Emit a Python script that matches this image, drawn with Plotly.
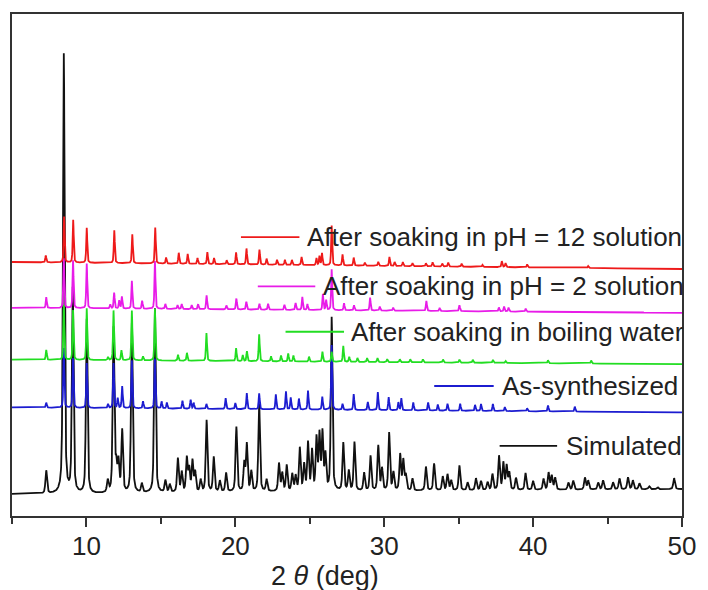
import numpy as np
import plotly.graph_objects as go

# ---------------- data ----------------
# peaks: (2theta in deg, height above local baseline, arbitrary units)
simulated_peaks = [
    (7.3, 23), (8.48, 441), (9.08, 205), (10.02, 175), (11.43, 12), (11.82, 165),
    (12.0, 25), (12.15, 30), (12.4, 62), (13.05, 170), (13.72, 9), (14.6, 185),
    (15.3, 12), (15.6, 8), (16.14, 34), (16.4, 20), (16.74, 34), (16.9, 23),
    (17.12, 31), (17.3, 20), (17.67, 12), (18.07, 72), (18.55, 35), (18.96, 11),
    (19.38, 19), (20.07, 65), (20.6, 28), (20.77, 47), (21.07, 20), (21.6, 88),
    (22.1, 12), (22.93, 28), (23.15, 18), (23.45, 26), (23.82, 17), (24.05, 15),
    (24.33, 43), (24.62, 26), (24.88, 48), (25.15, 40), (25.45, 52), (25.65, 55),
    (25.85, 57), (26.05, 35), (26.47, 174), (27.25, 48), (27.62, 20), (28.0, 49),
    (28.65, 18), (29.08, 35), (29.6, 45), (29.85, 22), (30.33, 58), (30.62, 18),
    (31.07, 36), (31.28, 30), (31.45, 15), (31.9, 12), (32.8, 24), (33.35, 27),
    (33.93, 14), (34.25, 16), (34.5, 10), (35.05, 25), (35.6, 8), (36.16, 12),
    (36.5, 9), (36.94, 8), (37.27, 16), (37.71, 34), (38.0, 27), (38.22, 24),
    (38.4, 17), (38.85, 12), (39.49, 17), (40.0, 9), (40.7, 11), (41.04, 17),
    (41.25, 14), (41.48, 12), (42.37, 7), (42.7, 9), (43.48, 12), (43.7, 9),
    (44.37, 7), (44.7, 9), (45.37, 7), (45.8, 11), (46.37, 12), (46.7, 9),
    (47.14, 6), (47.8, 3), (48.36, 2), (49.47, 11),
]
simulated_base = [(5, 22), (10, 22), (20, 24), (30, 25), (40, 26), (50, 27)]

as_synth_peaks = [
    (7.3, 5), (8.48, 60), (9.1, 50), (10.02, 45), (11.45, 4), (11.82, 45),
    (12.1, 10), (12.4, 22), (13.05, 48), (13.8, 7), (14.6, 50), (15.05, 7),
    (15.4, 6), (16.45, 8), (17.0, 9), (17.2, 6), (18.06, 5), (19.35, 11),
    (20.0, 6), (20.77, 16), (21.6, 16), (22.72, 15), (23.4, 18), (23.72, 12),
    (24.27, 11), (24.88, 19), (25.84, 13), (26.47, 65), (27.2, 6), (27.95, 16),
    (28.9, 8), (29.57, 18), (30.3, 13), (30.95, 8), (31.15, 12), (31.95, 8),
    (32.95, 8), (33.6, 6), (34.25, 7), (35.1, 7), (36.1, 6), (36.5, 7),
    (37.3, 7), (38.1, 4), (39.6, 3), (41.0, 6), (42.8, 5),
]
as_synth_base = [(5, 109), (50, 104)]

boiling_peaks = [
    (7.3, 10), (8.48, 55), (9.1, 50), (10.02, 52), (11.45, 3), (11.82, 50),
    (12.35, 10), (13.05, 50), (13.8, 4), (14.6, 52), (16.15, 6), (16.75, 8),
    (18.06, 28), (20.05, 13), (20.5, 6), (20.78, 10), (21.6, 27), (22.4, 5),
    (23.07, 6), (23.55, 8), (23.9, 6), (24.95, 5), (25.85, 10), (26.47, 10),
    (27.25, 16), (27.65, 5), (28.2, 4), (28.85, 4), (29.55, 4), (30.2, 3),
    (31.05, 3), (31.75, 3), (32.6, 3), (33.95, 3), (35.05, 3), (35.95, 3),
    (37.3, 3), (38.15, 2), (41.0, 3), (43.9, 3),
]
boiling_base = [(5, 157), (50, 152.5)]

ph2_peaks = [
    (7.3, 11), (8.48, 50), (9.1, 48), (10.02, 45), (11.6, 4), (11.86, 16),
    (12.2, 8), (12.38, 12), (13.05, 28), (13.74, 8), (14.6, 48), (15.3, 5),
    (16.12, 4), (16.4, 5), (17.07, 4), (17.5, 5), (18.07, 14), (19.4, 4),
    (20.07, 11), (20.74, 8), (21.62, 6), (22.2, 6), (23.3, 5), (24.05, 7),
    (24.5, 13), (24.84, 6), (25.88, 16), (26.1, 10), (26.47, 41), (27.3, 7),
    (27.97, 5), (29.05, 13), (29.7, 4), (30.6, 3), (32.83, 10), (33.72, 3),
    (35.05, 6), (37.7, 4), (38.05, 5), (38.35, 4), (39.5, 3),
]
ph2_base = [(5, 209), (50, 204)]

ph12_peaks = [
    (7.27, 7), (8.5, 46), (9.11, 43), (10.02, 35), (11.87, 33), (13.08, 29),
    (14.62, 36), (15.35, 6), (16.2, 11), (16.8, 10), (17.46, 6), (18.12, 12),
    (18.57, 6), (19.42, 4), (20.05, 12), (20.75, 16), (21.62, 15), (22.1, 6),
    (22.8, 5), (23.33, 5), (23.8, 5), (24.45, 8), (25.45, 7), (25.65, 9),
    (25.82, 12), (26.47, 40), (27.2, 11), (27.95, 8), (28.7, 3), (29.6, 4),
    (30.35, 9), (30.7, 4), (31.25, 4), (31.9, 3), (32.8, 3), (33.25, 4),
    (33.9, 3), (34.3, 4), (35.2, 3), (36.6, 2), (37.9, 6), (38.15, 4),
    (39.6, 3), (43.7, 2),
]
ph12_base = [(5, 255), (50, 248)]

series_names = [
    "Simulated",
    "As-synthesized",
    "After soaking in boiling water",
    "After soaking in pH = 2 solution",
    "After soaking in pH = 12 solution",
]
x_tick_vals = [10, 20, 30, 40, 50]
x_tick_text = ["10", "20", "30", "40", "50"]

# ---------------- building the profiles ----------------
two_theta = np.arange(5.0, 50.0001, 0.01)


def profile(peaks, base, fwhm, eta=0.5):
    bx, by = zip(*base)
    y = np.interp(two_theta, bx, by)
    hw = fwhm / 2.0
    for pos, h in peaks:
        d2 = ((two_theta - pos) / hw) ** 2
        y = y + h * (eta / (1.0 + d2) + (1 - eta) * np.exp(-np.log(2) * d2))
    return y


traces = [
    (series_names[0], profile(simulated_peaks, simulated_base, 0.13), "#111111"),
    (series_names[1], profile(as_synth_peaks, as_synth_base, 0.08), "#1c1cd0"),
    (series_names[2], profile(boiling_peaks, boiling_base, 0.08), "#22dd22"),
    (series_names[3], profile(ph2_peaks, ph2_base, 0.08), "#e81ce8"),
    (series_names[4], profile(ph12_peaks, ph12_base, 0.08), "#ee1a1a"),
]

fig = go.Figure()
for name, y, col in traces:
    fig.add_trace(go.Scatter(x=two_theta, y=y, mode="lines", name=name,
                             line=dict(color=col, width=1.8), showlegend=False,
                             hoverinfo="skip"))

# ---------------- layout ----------------
L, R, T, B = 12, 688, 12, 516
W, H = 708, 590


def fx(px):
    return (px - L) / (R - L)


def fy(py):
    return (B - py) / (B - T)


FONT = "Arial, Liberation Sans, sans-serif"

# legend-like labels (line sample + right aligned text)
legend_items = [
    # name index, line x0, x1, y, text right edge
    (4, 243, 302, 236, 690),
    (3, 260, 318, 285.5, 692),
    (2, 288, 347, 331, 692),
    (1, 438, 498, 385.5, 686),
    (0, 504, 562, 445.5, 690),
]
for idx, x0, x1, yy, xr in legend_items:
    col = traces[idx][2]
    fig.add_shape(type="line", xref="paper", yref="paper",
                  x0=fx(x0), x1=fx(x1), y0=fy(yy), y1=fy(yy),
                  line=dict(color=col, width=1.8))
    fig.add_annotation(xref="paper", yref="paper", x=fx(xr), y=fy(yy),
                       xanchor="right", yanchor="middle", showarrow=False,
                       text=series_names[idx],
                       font=dict(family=FONT, size=26, color="#222222"))

fig.add_annotation(xref="paper", yref="paper", x=fx(328), y=fy(576),
                   xanchor="center", yanchor="middle", showarrow=False,
                   text="2 <i>θ</i> (deg)",
                   font=dict(family=FONT, size=27, color="#222222"))

fig.update_layout(
    width=W, height=H,
    margin=dict(l=L, r=W - R, t=T, b=H - B, pad=0),
    paper_bgcolor="white", plot_bgcolor="white",
    showlegend=False,
    xaxis=dict(range=[5, 50], tickvals=x_tick_vals, ticktext=x_tick_text,
               ticks="outside", ticklen=9, tickwidth=1.5, tickcolor="#333",
               ticklabelstandoff=-3,
               showline=True, linecolor="#333", linewidth=2, mirror=True,
               showgrid=False, zeroline=False,
               tickfont=dict(family=FONT, size=26, color="#222222"),
               minor=dict(dtick=5, tick0=5, ticks="outside", ticklen=6,
                          tickwidth=1.5, tickcolor="#333", showgrid=False)),
    yaxis=dict(range=[0, 504], showticklabels=False, ticks="",
               showline=True, linecolor="#333", linewidth=2, mirror=True,
               showgrid=False, zeroline=False),
)

fig.write_html("out.html")
